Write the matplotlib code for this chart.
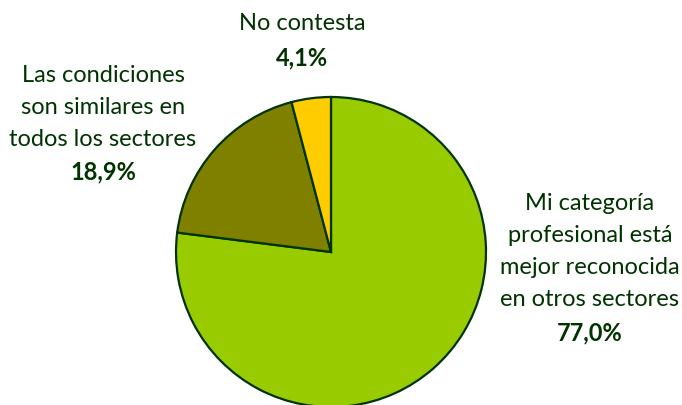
import matplotlib
matplotlib.use("Agg")
import matplotlib.pyplot as plt

labels = ["Mi categoría\nprofesional está\nmejor reconocida\nen otros sectores",
          "Las condiciones\nson similares en\ntodos los sectores",
          "No contesta"]
values = [77.0, 18.9, 4.1]
pct_labels = ["77,0%", "18,9%", "4,1%"]
colors = ["#99CC00", "#808000", "#FFCC00"]

W, H = 682, 406
fig = plt.figure(figsize=(W / 100, H / 100), dpi=100)
ax = fig.add_axes([0, 0, 1, 1])
cx, cy, r = 331, H - 253, 155
ax.pie(values, colors=colors, startangle=90, counterclock=False,
       center=(cx, cy), radius=r,
       wedgeprops=dict(edgecolor="#003300", linewidth=1.6))
ax.set_xlim(0, W)
ax.set_ylim(0, H)
ax.set_aspect("equal")
ax.axis("off")

font = "Lato"
tc = "#003300"
fs = 17

def block(x, ys, lines, pct):
    for y, t in zip(ys, lines):
        ax.text(x, H - y, t, ha="center", va="center", fontsize=fs,
                color=tc, family=font)
    ax.text(x, H - ys[len(lines)], pct, ha="center", va="center",
            fontsize=fs, color=tc, family=font, fontweight="bold")

block(590, [204, 236, 268, 300, 333], labels[0].split("\n"), pct_labels[0])
block(103, [75, 107, 139, 172], labels[1].split("\n"), pct_labels[1])
block(302, [23, 58], labels[2].split("\n"), pct_labels[2])

fig.savefig("out.png", dpi=100)
